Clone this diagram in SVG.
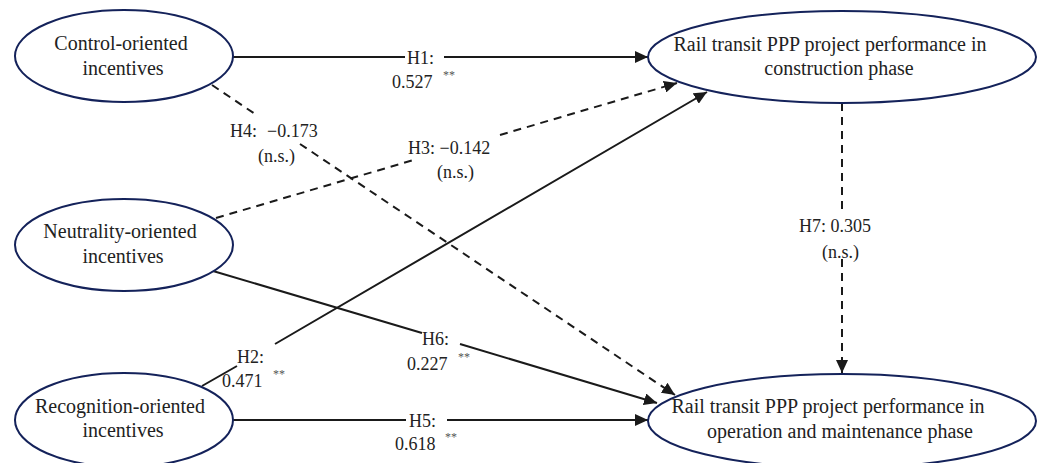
<svg xmlns="http://www.w3.org/2000/svg" width="1042" height="463" viewBox="0 0 1042 463">
<style>
.node{fill:#fff;stroke:#14225a;stroke-width:2}
text{font-family:'Times New Roman','Liberation Serif',Tinos,'DejaVu Serif',serif}
.nt{font-size:20px;fill:#222;text-anchor:middle}
.lt{font-size:18px;fill:#222}
.st{font-size:12px;fill:#555}
.e{fill:none;stroke:#1a1a1a;stroke-width:2;marker-end:url(#arr)}
.d{stroke-dasharray:8,6}
</style>
<defs>
<marker id="arr" markerUnits="userSpaceOnUse" markerWidth="14" markerHeight="12" refX="13" refY="6" orient="auto">
<path d="M0,0 L13,6 L0,12 z" fill="#1a1a1a"/>
</marker>
</defs>
<rect width="1042" height="463" fill="#fff"/>
<g id="connectors">
<path id="e-h1" class="e" d="M233,57 H405 M444,57 H648"/>
<path id="e-h4" class="e d" d="M212,85 L258,116 M300,144 L675,395"/>
<path id="e-h3" class="e d" d="M216,218 L417,159 M500,135 L677,83"/>
<path id="e-h2" class="e" d="M202,386 L237,366 M275,344 L707,92"/>
<path id="e-h6" class="e" d="M213,271 L422,333 M460,344 L657,403"/>
<path id="e-h5" class="e" d="M233,420 H406 M447,420 H648"/>
<path id="e-h7" class="e d" d="M842,103 V210 M842,259 V373"/>
<g id="labels">
<text class="lt" x="407" y="64">H1:</text>
<text class="lt" x="392" y="88">0.527</text>
<text class="st" x="443" y="79">**</text>
<text class="lt" x="230" y="137">H4:<tspan x="267">−0.173</tspan></text>
<text class="lt" x="258" y="162">(n.s.)</text>
<text class="lt" x="408" y="154">H3: −0.142</text>
<text class="lt" x="437" y="178">(n.s.)</text>
<text class="lt" x="237" y="363">H2:</text>
<text class="lt" x="222" y="387">0.471</text>
<text class="st" x="273" y="378">**</text>
<text class="lt" x="422" y="345">H6:</text>
<text class="lt" x="407" y="370">0.227</text>
<text class="st" x="458" y="361">**</text>
<text class="lt" x="409" y="427">H5:</text>
<text class="lt" x="395" y="450">0.618</text>
<text class="st" x="445" y="441">**</text>
<text class="lt" x="799" y="232">H7: 0.305</text>
<text class="lt" x="822" y="258">(n.s.)</text>
</g>
</g>
<g id="n-control">
<ellipse class="node" cx="124" cy="56" rx="109" ry="46"/>
<text class="nt" x="121" y="50">Control-oriented</text>
<text class="nt" x="123" y="75">incentives</text>
</g>
<g id="n-neutrality">
<ellipse class="node" cx="124" cy="245" rx="109" ry="46"/>
<text class="nt" x="120" y="238">Neutrality-oriented</text>
<text class="nt" x="123" y="263">incentives</text>
</g>
<g id="n-recognition">
<ellipse class="node" cx="124" cy="420" rx="109" ry="47"/>
<text class="nt" x="120" y="413">Recognition-oriented</text>
<text class="nt" x="123" y="437">incentives</text>
</g>
<g id="n-construction">
<ellipse class="node" cx="842" cy="57" rx="194" ry="46"/>
<text class="nt" x="830" y="51">Rail transit PPP project performance in</text>
<text class="nt" x="839" y="75">construction phase</text>
</g>
<g id="n-operation">
<ellipse class="node" cx="842" cy="421" rx="194" ry="47"/>
<text class="nt" x="828" y="413">Rail transit PPP project performance in</text>
<text class="nt" x="840" y="438">operation and maintenance phase</text>
</g>
</svg>
